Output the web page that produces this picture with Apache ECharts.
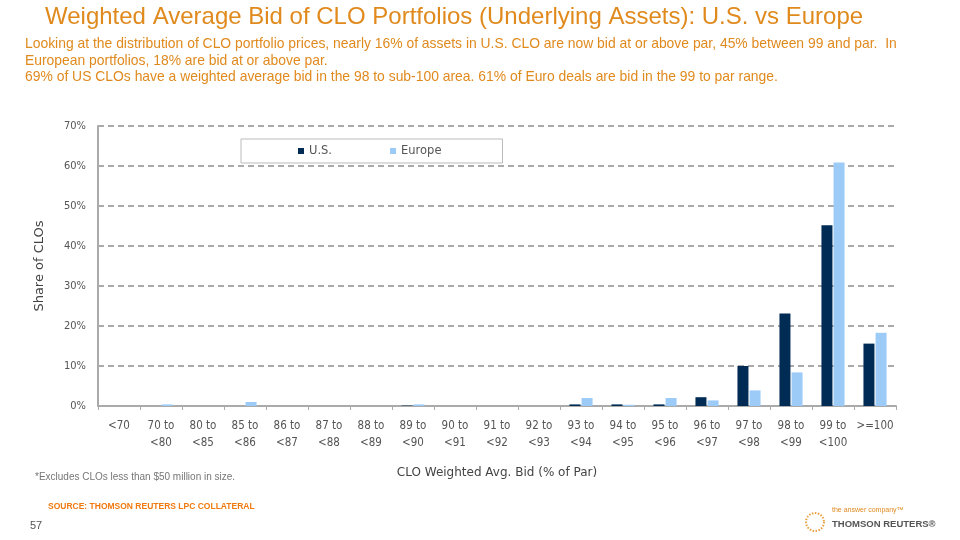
<!DOCTYPE html>
<html>
<head>
<meta charset="utf-8">
<script src="https://cdn.jsdelivr.net/npm/echarts@6/dist/echarts.min.js"></script>
<style>html,body{margin:0;padding:0;background:#fff}#c{width:960px;height:540px}</style>
</head>
<body>
<div id="c"></div>
<script>
const categories = ["<70","70 to\n<80","80 to\n<85","85 to\n<86","86 to\n<87","87 to\n<88","88 to\n<89","89 to\n<90","90 to\n<91","91 to\n<92","92 to\n<93","93 to\n<94","94 to\n<95","95 to\n<96","96 to\n<97","97 to\n<98","98 to\n<99","99 to\n<100",">=100"];
const usValues =     [0, 0,   0, 0,   0, 0, 0, 0.1, 0, 0, 0, 0.4, 0.4, 0.4, 2.2, 10.0, 23.1, 45.2, 15.6];
const europeValues = [0, 0.4, 0, 1.0, 0, 0, 0, 0.4, 0, 0, 0, 2.0, 0.3, 2.0, 1.4, 3.9,  8.4,  60.9, 18.3];
const seriesNames = ["U.S.", "Europe"];
const yTicks = { min: 0, max: 70, interval: 10 };

const orange = "#E08A1E";
const chart = echarts.init(document.getElementById('c'));
chart.setOption({
  animation: false,
  backgroundColor: "#fff",
  title: [
    { text: "Weighted Average Bid of CLO Portfolios (Underlying Assets): U.S. vs Europe", left: 40, top: 0,
      textStyle: { color: orange, fontFamily: "Liberation Sans, Arial", fontSize: 24, fontWeight: "normal" } },
    { text: "Looking at the distribution of CLO portfolio prices, nearly 16% of assets in U.S. CLO are now bid at or above par, 45% between 99 and par.  In\nEuropean portfolios, 18% are bid at or above par.\n69% of US CLOs have a weighted average bid in the 98 to sub-100 area. 61% of Euro deals are bid in the 99 to par range.",
      left: 20, top: 31,
      textStyle: { color: orange, fontFamily: "Liberation Sans, Arial", fontSize: 13.9, fontWeight: "normal", lineHeight: 16.5 } },
    { text: "*Excludes CLOs less than $50 million in size.", left: 30, top: 467,
      textStyle: { color: "#777", fontFamily: "Liberation Sans, Arial", fontSize: 10, fontWeight: "normal" } },
    { text: "SOURCE: THOMSON REUTERS LPC COLLATERAL", left: 43, top: 497,
      textStyle: { color: "#F07A10", fontFamily: "Liberation Sans, Arial", fontSize: 8.5, fontWeight: "bold" } },
    { text: "57", left: 25, top: 515,
      textStyle: { color: "#555", fontFamily: "Liberation Sans, Arial", fontSize: 11, fontWeight: "normal" } },
    { text: "the answer company™", left: 827, top: 502,
      textStyle: { color: "#E08A1E", fontFamily: "Liberation Sans, Arial", fontSize: 7, fontWeight: "normal" } },
    { text: "THOMSON REUTERS®", left: 827, top: 514,
      textStyle: { color: "#555", fontFamily: "Liberation Sans Narrow, Liberation Sans", fontSize: 9.5, fontWeight: "bold" } }
  ],
  graphic: [
    { type: "circle", shape: { cx: 815, cy: 522, r: 9 }, style: { fill: "none", stroke: "#E8A040", lineWidth: 2, lineDash: [1.5, 1.5] } }
  ],
  legend: {
    data: seriesNames, left: 241, top: 139,
    padding: [6, 61, 6, 57], itemGap: 58,
    borderColor: "#bbb", borderWidth: 1, itemWidth: 6, itemHeight: 6, icon: "rect",
    textStyle: { color: "#555", fontFamily: "DejaVu Sans", fontSize: 11.5 }
  },
  grid: { left: 98, right: 64, top: 126, bottom: 134, containLabel: false },
  xAxis: {
    type: "category", data: categories,
    name: "CLO Weighted Avg. Bid (% of Par)", nameLocation: "middle", nameGap: 61,
    nameTextStyle: { color: "#444", fontFamily: "DejaVu Sans", fontSize: 12 },
    axisLine: { lineStyle: { color: "#aaa", width: 2 } },
    axisTick: { show: true, alignWithLabel: false, length: 4, lineStyle: { color: "#aaa" } },
    axisLabel: { color: "#555", fontFamily: "DejaVu Sans Condensed, DejaVu Sans", fontSize: 11.5, lineHeight: 17, interval: 0, margin: 12 }
  },
  yAxis: {
    type: "value", min: yTicks.min, max: yTicks.max, interval: yTicks.interval,
    name: "Share of CLOs", nameLocation: "middle", nameGap: 52, nameRotate: 90,
    nameTextStyle: { color: "#444", fontFamily: "DejaVu Sans", fontSize: 13 },
    axisLine: { show: true, lineStyle: { color: "#aaa", width: 2 } },
    axisTick: { show: false },
    axisLabel: { color: "#555", fontFamily: "DejaVu Sans Condensed, DejaVu Sans", fontSize: 11, formatter: v => v + "%", margin: 12 },
    splitLine: { lineStyle: { color: "#aaa", type: [6, 4], width: 2 } }
  },
  series: [
    { name: seriesNames[0], type: "bar", data: usValues, barWidth: 11, barGap: "10%", itemStyle: { color: "#002B54" } },
    { name: seriesNames[1], type: "bar", data: europeValues, barWidth: 11, itemStyle: { color: "#9DCBF7" } }
  ]
});
</script>
</body>
</html>
